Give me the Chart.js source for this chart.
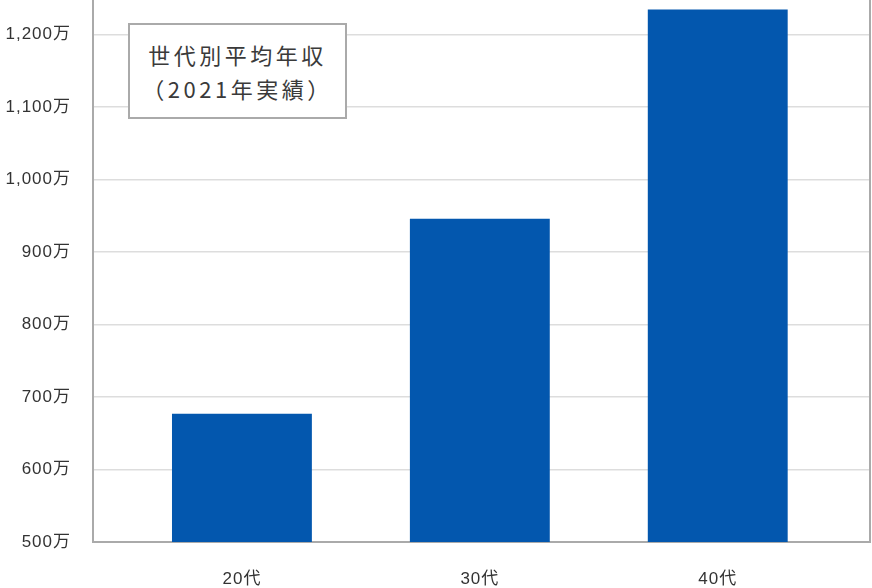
<!DOCTYPE html>
<html lang="ja">
<head>
    <meta charset="UTF-8">
    <title>世代別平均年収</title>
    <style>
        body { margin: 0; background: #fff; }
        #wrap { position: relative; width: 872px; height: 588px; }
        #note {
            position: absolute;
            left: 128px; top: 23px;
            width: 215px; height: 92px;
            border: 2px solid #aaa;
            background: #fff;
            color: #3a3a3a;
            font-family: "Noto Sans CJK JP", sans-serif;
            font-size: 22px;
            line-height: 34px;
            letter-spacing: 3.5px;
            text-align: center;
            display: flex;
            flex-direction: column;
            justify-content: center;
        }
    </style>
</head>
<body>
<script src="https://cdn.jsdelivr.net/npm/chart.js"></script>
<div id="wrap">
    <canvas id="chart" width="872" height="588"></canvas>
    <div id="note"><div>世代別平均年収</div><div>（2021年実績）</div></div>
</div>
<script>
    const categories = ['20代', '30代', '40代'];
    const positions = [1, 2, 3];
    const incomes = [677, 946, 1235];
    const yTicks = [500, 600, 700, 800, 900, 1000, 1100, 1200];

    const fontFamily = "'Liberation Sans', 'Noto Sans CJK JP', sans-serif";

    // ラベルの字間を少し広げる
    const spacing = {
        id: 'spacing',
        beforeDraw: chart => { chart.ctx.letterSpacing = '1px'; }
    };

    new Chart(document.getElementById('chart'), {
        type: 'bar',
        data: {
            datasets: [{
                data: positions.map((p, i) => ({ x: p, y: incomes[i] })),
                backgroundColor: '#0357ae',
                categoryPercentage: 1,
                barPercentage: 0.588
            }]
        },
        options: {
            responsive: false,
            animation: false,
            layout: { padding: 0 },
            plugins: { legend: { display: false }, tooltip: { enabled: false } },
            scales: {
                x: {
                    type: 'linear',
                    offset: false,
                    min: 0.374,
                    max: 3.64,
                    grid: { display: false },
                    border: { color: '#aaa', width: 2 },
                    afterBuildTicks: s => { s.ticks = positions.map(v => ({ value: v })); },
                    afterFit: s => { s.height = 46; },
                    ticks: {
                        padding: 19,
                        color: '#333',
                        font: { family: fontFamily, size: 17 },
                        callback: v => categories[positions.indexOf(v)] || ''
                    }
                },
                y: {
                    min: 500,
                    max: 1248,
                    grid: { color: '#ddd', lineWidth: 1.5, drawTicks: false },
                    border: { color: '#aaa', width: 2 },
                    afterBuildTicks: s => { s.ticks = yTicks.map(v => ({ value: v })); },
                    afterFit: s => { s.width = 93; s.paddingTop = 0; s.paddingBottom = 0; },
                    ticks: {
                        padding: 22,
                        color: '#333',
                        font: { family: fontFamily, size: 17 },
                        callback: v => v.toLocaleString('en-US') + '万'
                    }
                },
                yRight: {
                    position: 'right',
                    min: 500,
                    max: 1248,
                    grid: { display: false },
                    border: { color: '#aaa', width: 2 },
                    ticks: { display: false },
                    afterFit: s => { s.width = 2; s.paddingTop = 0; s.paddingBottom = 0; }
                }
            }
        },
        plugins: [spacing]
    });
</script>
</body>
</html>
